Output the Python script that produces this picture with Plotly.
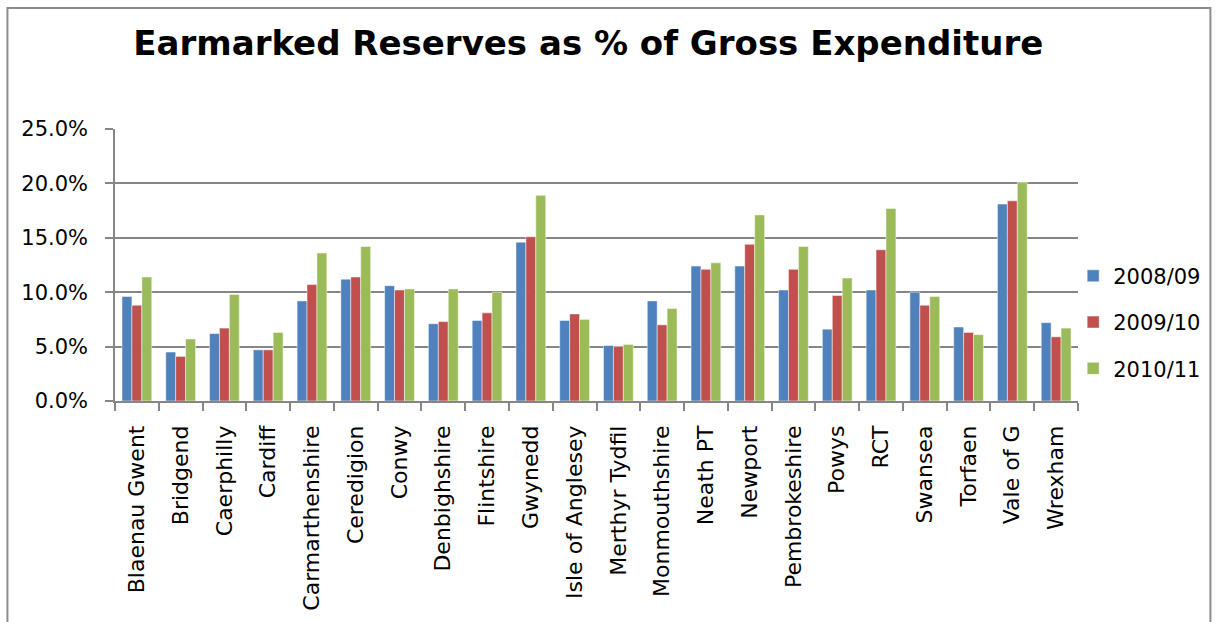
import plotly.graph_objects as go

authorities = [
    "Blaenau Gwent", "Bridgend", "Caerphilly", "Cardiff", "Carmarthenshire",
    "Ceredigion", "Conwy", "Denbighshire", "Flintshire", "Gwynedd",
    "Isle of Anglesey", "Merthyr Tydfil", "Monmouthshire", "Neath PT",
    "Newport", "Pembrokeshire", "Powys", "RCT", "Swansea", "Torfaen",
    "Vale of G", "Wrexham",
]

# Earmarked reserves as a share of gross expenditure (fractions)
y2008_09 = [0.096, 0.045, 0.062, 0.047, 0.092, 0.112, 0.106, 0.071, 0.074,
            0.146, 0.074, 0.051, 0.092, 0.124, 0.124, 0.102, 0.066, 0.102,
            0.100, 0.068, 0.181, 0.072]
y2009_10 = [0.088, 0.041, 0.067, 0.047, 0.107, 0.114, 0.102, 0.073, 0.081,
            0.151, 0.080, 0.050, 0.070, 0.121, 0.144, 0.121, 0.097, 0.139,
            0.088, 0.063, 0.184, 0.059]
y2010_11 = [0.114, 0.057, 0.098, 0.063, 0.136, 0.142, 0.103, 0.103, 0.100,
            0.189, 0.075, 0.052, 0.085, 0.127, 0.171, 0.142, 0.113, 0.177,
            0.096, 0.061, 0.201, 0.067]

series = [
    ("2008/09", y2008_09, "#4F81BD"),
    ("2009/10", y2009_10, "#C0504D"),
    ("2010/11", y2010_11, "#9BBB59"),
]

FONT = "DejaVu Sans"

fig = go.Figure()
for name, vals, color in series:
    fig.add_trace(go.Bar(
        x=authorities, y=vals, name=name, legendgroup=name,
        marker=dict(color=color, line=dict(color="rgba(255,255,255,0.6)", width=0.8)),
    ))

fig.update_layout(
    width=1218, height=622,
    margin=dict(l=115, r=136, t=129, b=221),
    paper_bgcolor="white", plot_bgcolor="white",
    barmode="group", bargap=0.32, bargroupgap=0,
    font=dict(family=FONT, color="black", size=20),
    title=dict(
        text="<b>Earmarked Reserves as % of Gross Expenditure</b>",
        x=0.483, xanchor="center", y=0.93, yanchor="middle",
        yref="container", xref="container",
        font=dict(family=FONT, size=34, color="black"),
    ),
    xaxis=dict(
        type="category", tickangle=-90, tickson="boundaries",
        ticks="outside", ticklen=8, tickcolor="#868686", tickwidth=1.5,
        showline=True, linecolor="#868686", linewidth=1.5,
        showgrid=False, tickfont=dict(size=22, family=FONT),
        ticklabelstandoff=14,
    ),
    yaxis=dict(
        range=[0, 0.25], dtick=0.05, tickformat=".1%",
        ticks="outside", ticklen=8, tickcolor="#868686", tickwidth=1.5,
        showline=True, linecolor="#868686", linewidth=1.5,
        showgrid=True, gridcolor="#868686", gridwidth=1.5,
        zeroline=False, tickfont=dict(size=21, family=FONT),
        ticklabelstandoff=13,
    ),
    legend=dict(
        x=0.995, xanchor="left", y=0.29, yanchor="middle",
        font=dict(size=21, family=FONT), tracegroupgap=16,
        itemwidth=30, bgcolor="rgba(0,0,0,0)",
    ),
    shapes=[dict(
        type="rect", xref="paper", yref="paper",
        x0=-0.1117, x1=1.1375, y0=-1.0, y1=1.445,
        line=dict(color="#8c8c8c", width=2), fillcolor="rgba(0,0,0,0)",
        layer="below",
    )],
)

fig.write_html("out.html")
